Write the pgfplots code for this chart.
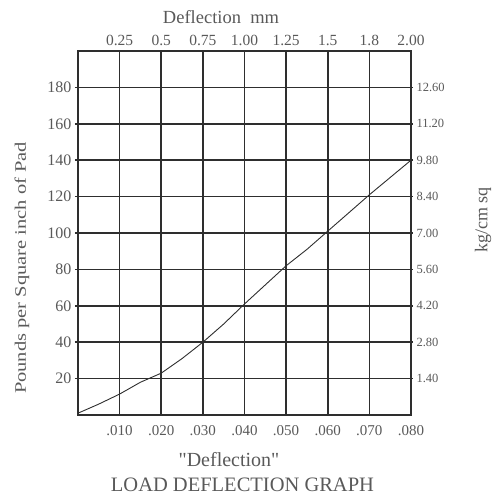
\documentclass[border=0pt]{standalone}
\usepackage{fontspec}
\setmainfont{Liberation Serif}
\newfontfamily\qfont{Liberation Serif}
\usepackage{graphicx}
\usepackage{pgfplots}
\pgfplotsset{compat=1.18}
\usetikzlibrary{calc}
\definecolor{txt}{gray}{0.35}
\definecolor{ln}{gray}{0.18}
\begin{document}
\begin{tikzpicture}
\begin{axis}[name=ax, scale only axis,
  width=333pt, height=364pt,
  xmin=0, xmax=0.08, ymin=0, ymax=200,
  scaled x ticks=false,
  /pgf/number format/assume math mode=true,
  xtick={0.01,0.02,0.03,0.04,0.05,0.06,0.07,0.08},
  xticklabels={.010,.020,.030,.040,.050,.060,.070,.080},
  ytick={20,40,60,80,100,120,140,160,180},
  yticklabels={20,40,60,80,100,120,140,160,180},
  xtick pos=lower, ytick pos=left,
  grid=major, major grid style={ln, line width=1.7pt},
  axis line style={ln, line width=1.7pt},
  tick align=outside,
  x tick style={draw=none},
  y tick style={ln, line width=1.7pt}, major tick length=3pt,
  xticklabel style={font=\fontsize{15}{15}\selectfont, text=txt, yshift=-4pt},
  yticklabel style={font=\fontsize{16}{16}\selectfont, text=txt},
  clip=false,
]
\addplot[ln, line width=0.9pt, mark=none] coordinates {
(0,1) (0.005,6) (0.010,11.5) (0.015,18) (0.020,23) (0.025,31) (0.030,40)
(0.035,50) (0.040,61) (0.045,71.5) (0.050,82) (0.055,91) (0.060,101)
(0.065,111) (0.070,121) (0.075,130.5) (0.080,140)
};
\coordinate (C) at (rel axis cs:0,0);
\end{axis}
\begin{axis}[at={(C)}, anchor=origin, scale only axis,
  width=333pt, height=364pt,
  xmin=0, xmax=0.08, ymin=0, ymax=200,
  scaled x ticks=false,
  axis x line*=top, axis y line*=right,
  axis line style={ln, line width=1.7pt, -},
  xtick={0.01,0.02,0.03,0.04,0.05,0.06,0.07,0.08},
  xticklabels={0.25,0.5,0.75,1.00,1.25,1.5,1.8,2.00},
  ytick={20,40,60,80,100,120,140,160,180},
  yticklabels={1.40,2.80,4.20,5.60,7.00,8.40,9.80,11.20,12.60},
  tick align=outside,
  x tick style={draw=none},
  y tick style={ln, line width=1.7pt}, major tick length=2pt,
  xticklabel style={font=\fontsize{15.5}{15.5}\selectfont, text=txt},
  yticklabel style={font=\fontsize{12.5}{12.5}\selectfont, text=txt, anchor=west},
]
\end{axis}
\begin{scope}[shift={(C)}, x=1pt, y=1pt, xshift=-78pt, yshift=-80pt]
\node[anchor=base, text=txt, font=\fontsize{18.5}{18.5}\selectfont] at (221,471) {Deflection\ \ mm};
\node[anchor=base, text=txt, font=\fontsize{20}{20}\selectfont] at (229,29) {{\qfont"}Deflection{\qfont"}};
\node[anchor=base, text=txt, font=\fontsize{20.5}{20.5}\selectfont] at (242.5,4) {LOAD DEFLECTION GRAPH};
\node[rotate=90, text=txt, font=\fontsize{16}{16}\selectfont, inner sep=0pt] at (22,227) {\scalebox{1.28}[1]{Pounds per Square inch of Pad}};
\node[rotate=90, text=txt, font=\fontsize{18}{18}\selectfont, inner sep=0pt] at (483,275) {kg/cm sq};
\coordinate (BL) at (0,0);
\coordinate (TR) at (493,495);
\end{scope}
\pgfresetboundingbox
\useasboundingbox (BL) rectangle (TR);
\end{tikzpicture}
\end{document}
